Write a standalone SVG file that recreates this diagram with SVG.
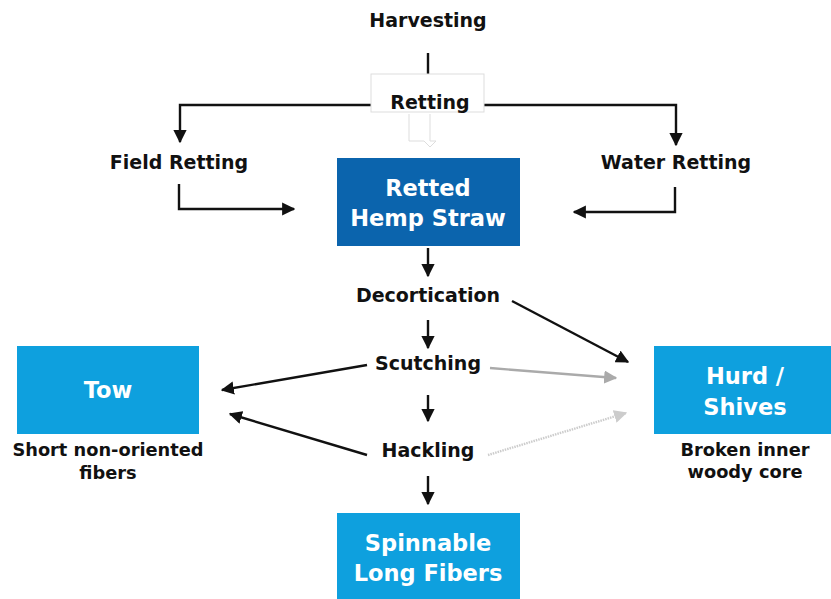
<svg xmlns="http://www.w3.org/2000/svg" width="831" height="599" viewBox="0 0 831 599">
<style>
.t{font-family:"DejaVu Sans","Liberation Sans",sans-serif;font-weight:700;font-size:19px;fill:#111;text-anchor:middle}
.s{font-family:"DejaVu Sans","Liberation Sans",sans-serif;font-weight:700;font-size:17.8px;fill:#111;text-anchor:middle}
.w{font-family:"DejaVu Sans","Liberation Sans",sans-serif;font-weight:700;font-size:22.5px;fill:#fff;text-anchor:middle}
.c{fill:none;stroke:#111;stroke-width:2.4}
</style>
<defs>
<marker id="a" viewBox="0 0 10 10" refX="9" refY="5" markerWidth="5.5" markerHeight="5.5" orient="auto" markerUnits="strokeWidth"><path d="M0,0L10,5L0,10z" fill="#111"/></marker>
<marker id="g" viewBox="0 0 10 10" refX="9" refY="5" markerWidth="5.5" markerHeight="5.5" orient="auto" markerUnits="strokeWidth"><path d="M0,0L10,5L0,10z" fill="#aaa"/></marker>
<marker id="l" viewBox="0 0 10 10" refX="9" refY="5" markerWidth="5.5" markerHeight="5.5" orient="auto" markerUnits="strokeWidth"><path d="M0,0L10,5L0,10z" fill="#ccc"/></marker>
</defs>
<rect width="831" height="599" fill="#fff"/>
<g id="connectors">
<path class="c" d="M428,53V76"/>
<path class="c" d="M371,105H180V142" marker-end="url(#a)"/>
<path class="c" d="M484,105H676V145" marker-end="url(#a)"/>
<path class="c" d="M179,184V209H294" marker-end="url(#a)"/>
<path class="c" d="M675,187V212H574" marker-end="url(#a)"/>
<path d="M409,114V141H424L430,147L436,141H430V114" fill="none" stroke="#ddd" stroke-width="1"/>
<path class="c" d="M428,248V276" marker-end="url(#a)"/>
<path class="c" d="M428,320V348" marker-end="url(#a)"/>
<path class="c" d="M428,395V421" marker-end="url(#a)"/>
<path class="c" d="M428,476V504" marker-end="url(#a)"/>
<path class="c" d="M512,301L628,362" marker-end="url(#a)"/>
<path d="M490,368L616,378" fill="none" stroke="#aaa" stroke-width="2.4" marker-end="url(#g)"/>
<path d="M488,455L626,413" fill="none" stroke="#ccc" stroke-width="2.4" stroke-dasharray="1.5 1" marker-end="url(#l)"/>
<path class="c" d="M367,365L222,390" marker-end="url(#a)"/>
<path class="c" d="M367,455L230,414" marker-end="url(#a)"/>
</g>
<g id="harvesting"><text class="t" x="428" y="27">Harvesting</text></g>
<g id="retting"><rect x="371" y="74" width="113" height="38" fill="#fff" stroke="#ddd" stroke-width="1"/><text class="t" x="430" y="109">Retting</text></g>
<g id="field"><text class="t" x="179" y="169">Field Retting</text></g>
<g id="water"><text class="t" x="676" y="169">Water Retting</text></g>
<g id="straw"><rect x="337" y="158" width="183" height="88" fill="#0b64ad"/><text class="w" x="428" y="196">Retted</text><text class="w" x="428" y="226">Hemp Straw</text></g>
<g id="decortication"><text class="t" x="428" y="302">Decortication</text></g>
<g id="scutching"><text class="t" x="428" y="370">Scutching</text></g>
<g id="hackling"><text class="t" x="428" y="457">Hackling</text></g>
<g id="tow"><rect x="17" y="346" width="182" height="88" fill="#0ea0de"/><text class="w" x="108" y="398">Tow</text><text class="s" x="108" y="456">Short non-oriented</text><text class="s" x="108" y="479">fibers</text></g>
<g id="hurd"><rect x="654" y="346" width="177" height="88" fill="#0ea0de"/><text class="w" x="745" y="384">Hurd /</text><text class="w" x="745" y="415">Shives</text><text class="s" x="745" y="456">Broken inner</text><text class="s" x="745" y="478">woody core</text></g>
<g id="spinnable"><rect x="337" y="513" width="183" height="86" fill="#0ea0de"/><text class="w" x="428" y="551">Spinnable</text><text class="w" x="428" y="581">Long Fibers</text></g>
</svg>
